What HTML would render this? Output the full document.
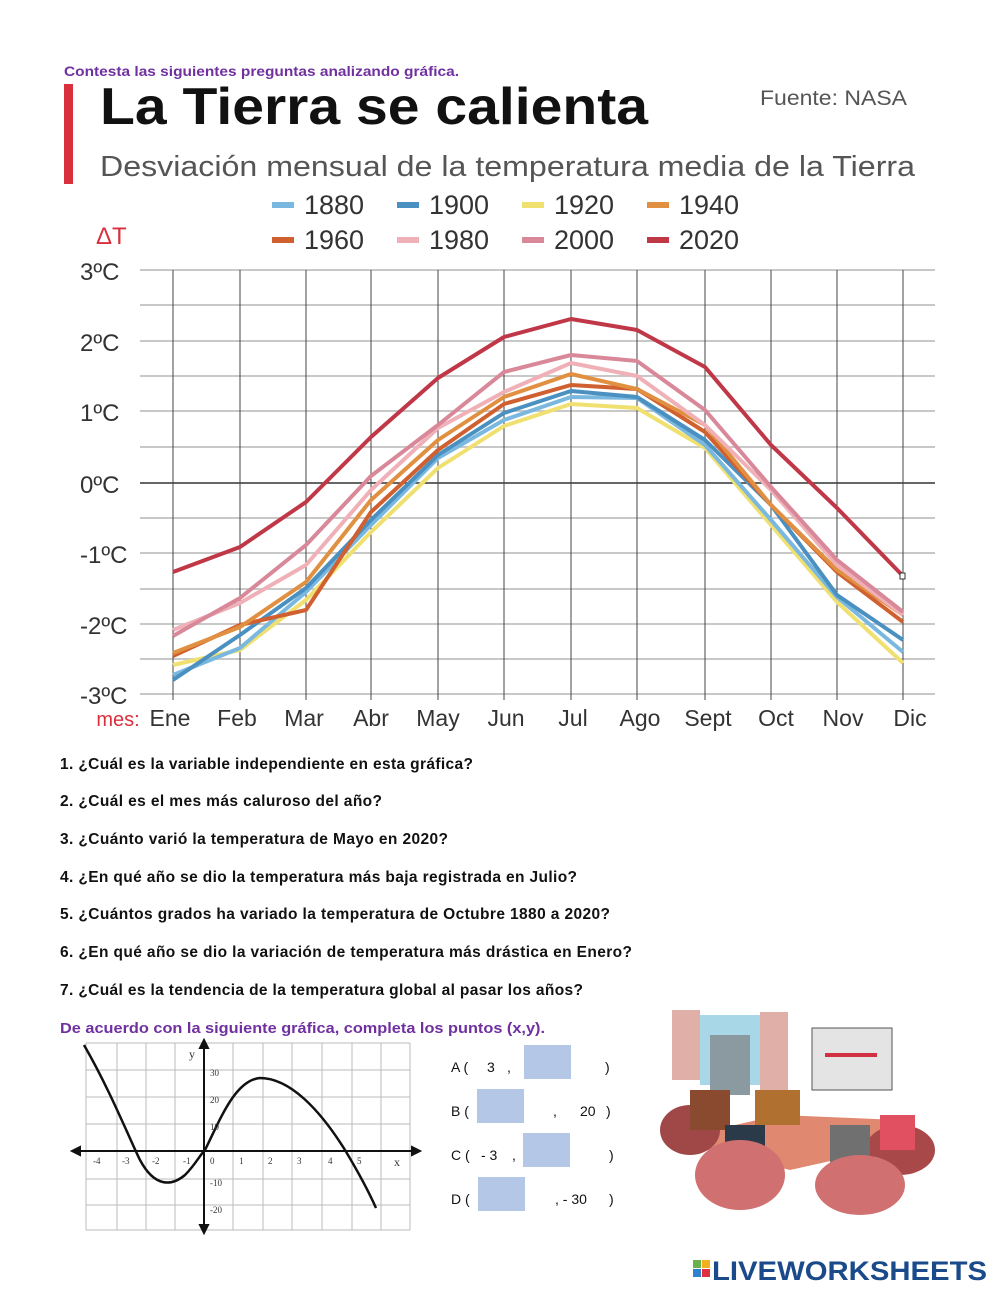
<!DOCTYPE html>
<html><head><meta charset="utf-8"><style>
html,body{margin:0;padding:0;background:#fff;}
svg{display:block;}
</style></head><body>
<svg width="1000" height="1294" viewBox="0 0 1000 1294" xmlns="http://www.w3.org/2000/svg" font-family="Liberation Sans, DejaVu Sans, sans-serif">
<text x="64" y="76" font-size="14" font-weight="bold" fill="#7030a0" textLength="395" lengthAdjust="spacingAndGlyphs">Contesta las siguientes preguntas analizando gráfica.</text>
<rect x="64" y="84" width="9" height="100" fill="#d8303c"/>
<text x="100" y="124" font-size="52" font-weight="bold" fill="#111" textLength="548" lengthAdjust="spacingAndGlyphs">La Tierra se calienta</text>
<text x="760" y="105" font-size="21" fill="#555" textLength="147" lengthAdjust="spacingAndGlyphs">Fuente: NASA</text>
<text x="100" y="176" font-size="29" fill="#555" textLength="815" lengthAdjust="spacingAndGlyphs">Desviación mensual de la temperatura media de la Tierra</text>
<g font-size="27" fill="#333">
<rect x="272" y="202" width="22" height="6" fill="#7ab8e0"/><text x="304" y="214">1880</text>
<rect x="397" y="202" width="22" height="6" fill="#4a90c0"/><text x="429" y="214">1900</text>
<rect x="522" y="202" width="22" height="6" fill="#f0e070"/><text x="554" y="214">1920</text>
<rect x="647" y="202" width="22" height="6" fill="#e09040"/><text x="679" y="214">1940</text>
<rect x="272" y="237" width="22" height="6" fill="#d06030"/><text x="304" y="249">1960</text>
<rect x="397" y="237" width="22" height="6" fill="#f0b0b8"/><text x="429" y="249">1980</text>
<rect x="522" y="237" width="22" height="6" fill="#d88898"/><text x="554" y="249">2000</text>
<rect x="647" y="237" width="22" height="6" fill="#c03848"/><text x="679" y="249">2020</text>
</g>
<text x="96" y="244" font-size="24" fill="#d8303c">ΔT</text>
<g stroke="#c8c8c8" stroke-width="2">
<line x1="140" y1="270" x2="935" y2="270"/><line x1="140" y1="305" x2="935" y2="305"/>
<line x1="140" y1="341" x2="935" y2="341"/><line x1="140" y1="376" x2="935" y2="376"/>
<line x1="140" y1="411" x2="935" y2="411"/><line x1="140" y1="447" x2="935" y2="447"/>
<line x1="140" y1="518" x2="935" y2="518"/><line x1="140" y1="553" x2="935" y2="553"/>
<line x1="140" y1="589" x2="935" y2="589"/><line x1="140" y1="624" x2="935" y2="624"/>
<line x1="140" y1="659" x2="935" y2="659"/><line x1="140" y1="694" x2="935" y2="694"/>
</g>
<line x1="140" y1="483" x2="935" y2="483" stroke="#333" stroke-width="1.5"/>
<g stroke="#444" stroke-width="1">
<line x1="173" y1="270" x2="173" y2="700"/><line x1="240" y1="270" x2="240" y2="700"/>
<line x1="306" y1="270" x2="306" y2="700"/><line x1="371" y1="270" x2="371" y2="700"/>
<line x1="438" y1="270" x2="438" y2="700"/><line x1="504" y1="270" x2="504" y2="700"/>
<line x1="571" y1="270" x2="571" y2="700"/><line x1="637" y1="270" x2="637" y2="700"/>
<line x1="705" y1="270" x2="705" y2="700"/><line x1="771" y1="270" x2="771" y2="700"/>
<line x1="837" y1="270" x2="837" y2="700"/><line x1="903" y1="270" x2="903" y2="700"/>
</g>
<g font-size="24" fill="#333">
<text x="80" y="280">3ºC</text><text x="80" y="351">2ºC</text><text x="80" y="421">1ºC</text>
<text x="80" y="493">0ºC</text><text x="80" y="563">-1ºC</text><text x="80" y="634">-2ºC</text><text x="80" y="704">-3ºC</text>
</g>
<g font-size="23" fill="#333" text-anchor="middle">
<text x="118" y="726" fill="#d8303c" font-size="20">mes:</text>
<text x="170" y="726">Ene</text><text x="237" y="726">Feb</text><text x="304" y="726">Mar</text><text x="371" y="726">Abr</text>
<text x="438" y="726">May</text><text x="506" y="726">Jun</text><text x="573" y="726">Jul</text><text x="640" y="726">Ago</text>
<text x="708" y="726">Sept</text><text x="776" y="726">Oct</text><text x="843" y="726">Nov</text><text x="910" y="726">Dic</text>
</g>
<g fill="none" stroke-width="4" stroke-linejoin="round">
<polyline stroke="#f0e070" points="173,665 240,650 306,600 371,532 438,468 504,426 571,404 637,408 705,448 771,525 837,602 903,663"/>
<polyline stroke="#7ab8e0" points="173,675 240,648 306,592 371,525 438,458 504,420 571,397 637,398 705,445 771,520 837,597 903,652"/>
<polyline stroke="#4a90c0" points="173,680 240,635 306,588 371,520 438,455 504,413 571,391 637,397 705,440 771,505 837,595 903,640"/>
<polyline stroke="#d06030" points="173,656 240,625 306,610 371,512 438,450 504,404 571,385 637,389 705,432 771,505 837,572 903,622"/>
<polyline stroke="#e09040" points="173,653 240,627 306,582 371,500 438,440 504,397 571,374 637,389 705,425 771,505 837,570 903,615"/>
<polyline stroke="#f0b0b8" points="173,630 240,603 306,565 371,490 438,428 504,392 571,363 637,376 705,425 771,490 837,565 903,615"/>
<polyline stroke="#d88898" points="173,636 240,598 306,545 371,476 438,425 504,372 571,355 637,361 705,410 771,487 837,560 903,612"/>
<polyline stroke="#c03848" points="173,572 240,547 306,502 371,437 438,378 504,337 571,319 637,330 705,367 771,445 837,508 903,576"/>
</g>
<rect x="900" y="573" width="5" height="6" fill="#fff" stroke="#333" stroke-width="1"/>
<g font-size="15.5" font-weight="bold" fill="#111" lengthAdjust="spacingAndGlyphs">
<text x="60" y="769" textLength="413">1. ¿Cuál es la variable independiente en esta gráfica?</text>
<text x="60" y="806" textLength="322">2. ¿Cuál es el mes más caluroso del año?</text>
<text x="60" y="844" textLength="388">3. ¿Cuánto varió la temperatura de Mayo en 2020?</text>
<text x="60" y="882" textLength="517">4. ¿En qué año se dio la temperatura más baja registrada en Julio?</text>
<text x="60" y="919" textLength="550">5. ¿Cuántos grados ha variado la temperatura de Octubre 1880 a 2020?</text>
<text x="60" y="957" textLength="572">6. ¿En qué año se dio la variación de temperatura más drástica en Enero?</text>
<text x="60" y="995" textLength="523">7. ¿Cuál es la tendencia de la temperatura global al pasar los años?</text>
</g>
<text x="60" y="1033" font-size="15" font-weight="bold" fill="#7030a0" textLength="485" lengthAdjust="spacingAndGlyphs">De acuerdo con la siguiente gráfica, completa los puntos (x,y).</text>
<g stroke="#bbb" stroke-width="1">
<line x1="86" y1="1043" x2="86" y2="1230"/><line x1="117" y1="1043" x2="117" y2="1230"/><line x1="146" y1="1043" x2="146" y2="1230"/>
<line x1="175" y1="1043" x2="175" y2="1230"/><line x1="233" y1="1043" x2="233" y2="1230"/><line x1="263" y1="1043" x2="263" y2="1230"/>
<line x1="292" y1="1043" x2="292" y2="1230"/><line x1="322" y1="1043" x2="322" y2="1230"/><line x1="352" y1="1043" x2="352" y2="1230"/>
<line x1="381" y1="1043" x2="381" y2="1230"/><line x1="410" y1="1043" x2="410" y2="1230"/>
<line x1="86" y1="1043" x2="410" y2="1043"/><line x1="86" y1="1070" x2="410" y2="1070"/><line x1="86" y1="1097" x2="410" y2="1097"/>
<line x1="86" y1="1124" x2="410" y2="1124"/><line x1="86" y1="1179" x2="410" y2="1179"/><line x1="86" y1="1205" x2="410" y2="1205"/><line x1="86" y1="1230" x2="410" y2="1230"/>
</g>
<g stroke="#111" stroke-width="2" fill="#111">
<line x1="74" y1="1151" x2="418" y2="1151"/><line x1="204" y1="1043" x2="204" y2="1230"/>
<polygon points="72,1151 80,1147 80,1155"/><polygon points="420,1151 412,1147 412,1155"/>
<polygon points="204,1040 200,1048 208,1048"/><polygon points="204,1233 200,1225 208,1225"/>
</g>
<path d="M84,1045 C110,1090 130,1140 140,1160 C155,1188 172,1186 185,1175 C195,1165 200,1155 205,1150 C220,1120 235,1080 260,1078 C290,1078 320,1110 345,1150 C360,1175 368,1190 376,1208" fill="none" stroke="#111" stroke-width="2.5"/>
<g font-size="9" fill="#333" font-family="Liberation Serif, serif">
<text x="93" y="1164">-4</text><text x="122" y="1164">-3</text><text x="152" y="1164">-2</text><text x="183" y="1164">-1</text>
<text x="210" y="1164">0</text><text x="239" y="1164">1</text><text x="268" y="1164">2</text><text x="297" y="1164">3</text>
<text x="328" y="1164">4</text><text x="357" y="1164">5</text><text x="394" y="1166" font-size="12">x</text>
<text x="189" y="1058" font-size="12">y</text>
<text x="210" y="1076">30</text><text x="210" y="1103">20</text><text x="210" y="1130">10</text>
<text x="210" y="1186">-10</text><text x="210" y="1213">-20</text>
</g>
<g font-size="14" fill="#111">
<text x="451" y="1072">A (</text><text x="487" y="1072">3</text><text x="507" y="1072">,</text>
<rect x="524" y="1045" width="47" height="34" fill="#b4c7e7"/><text x="605" y="1072">)</text>
<text x="451" y="1116">B (</text><rect x="477" y="1089" width="47" height="34" fill="#b4c7e7"/>
<text x="553" y="1116">,</text><text x="580" y="1116">20</text><text x="606" y="1116">)</text>
<text x="451" y="1160">C (</text><text x="481" y="1160">- 3</text><text x="512" y="1160">,</text>
<rect x="523" y="1133" width="47" height="34" fill="#b4c7e7"/><text x="609" y="1160">)</text>
<text x="451" y="1204">D (</text><rect x="478" y="1177" width="47" height="34" fill="#b4c7e7"/>
<text x="555" y="1204">, - 30</text><text x="609" y="1204">)</text>
</g>
<g>
<rect x="672" y="1010" width="28" height="70" fill="#e0b0a8"/><rect x="700" y="1015" width="60" height="70" fill="#a8d8e8"/>
<rect x="710" y="1035" width="40" height="60" fill="#8a9aa0"/><rect x="760" y="1012" width="28" height="80" fill="#e0b0a8"/>
<rect x="812" y="1028" width="80" height="62" fill="#e4e4e4" stroke="#555"/><rect x="825" y="1053" width="52" height="4" fill="#d03040"/>
<polygon points="668,1140 780,1115 900,1120 880,1150 790,1170" fill="#e08870"/>
<ellipse cx="690" cy="1130" rx="30" ry="25" fill="#a04848"/><ellipse cx="900" cy="1150" rx="35" ry="25" fill="#a84848"/>
<rect x="690" y="1090" width="40" height="40" fill="#8a4a30"/><rect x="755" y="1090" width="45" height="35" fill="#b07030"/>
<rect x="725" y="1125" width="40" height="50" fill="#2a3a48"/><rect x="830" y="1125" width="40" height="55" fill="#707070"/>
<rect x="880" y="1115" width="35" height="35" fill="#e05060"/>
<ellipse cx="740" cy="1175" rx="45" ry="35" fill="#d07070"/><ellipse cx="860" cy="1185" rx="45" ry="30" fill="#d07070"/>
</g>
<rect x="693" y="1260" width="8" height="8" fill="#6ab04c"/><rect x="702" y="1260" width="8" height="8" fill="#f0b020"/>
<rect x="693" y="1269" width="8" height="8" fill="#3080d0"/><rect x="702" y="1269" width="8" height="8" fill="#e03040"/>
<text x="712" y="1280" font-size="27" font-weight="bold" fill="#1a4a8a" textLength="275" lengthAdjust="spacingAndGlyphs">LIVEWORKSHEETS</text>
</svg>
</body></html>
